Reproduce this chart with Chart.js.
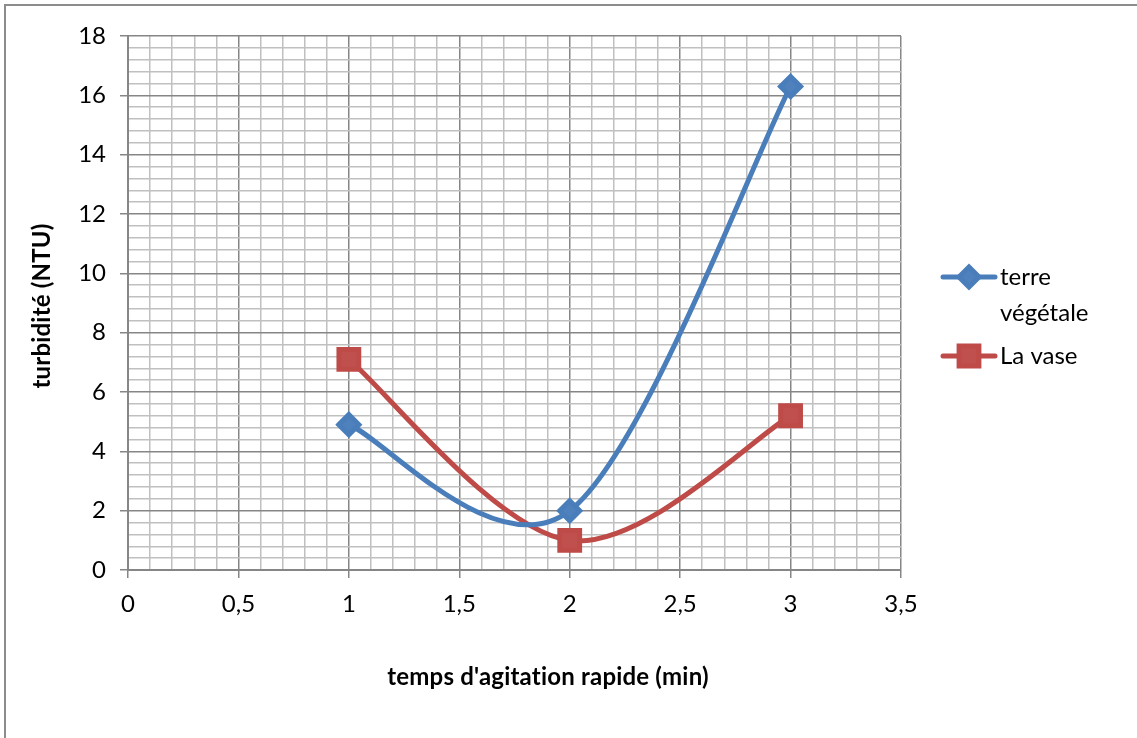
<!DOCTYPE html>
<html>
<head>
<meta charset="utf-8">
<script src="https://cdn.jsdelivr.net/npm/chart.js@4.4.0/dist/chart.umd.min.js"></script>
<style>
  html, body { margin: 0; padding: 0; background: #fff; }
  #wrap { position: relative; width: 1137px; height: 738px; }
</style>
</head>
<body>
<div id="wrap"><canvas id="turbChart" width="1137" height="738"></canvas></div>
<script>
// temps d'agitation rapide (min)
const temps = [1, 2, 3];
const terreVegetale = [4.9, 2.0, 16.3];
const laVase = [7.1, 1.0, 5.2];
const xMax = 3.5;
const yMax = 18;

const majorGrid = "#868686";
const minorGrid = "#c0c0c0";
const police = "Lato, 'Liberation Sans', sans-serif";

const estMajeur = (v, pas) => Math.abs(v / pas - Math.round(v / pas)) < 1e-6;

// lissage facon Excel (Catmull-Rom uniforme) a partir des points places par les echelles
const lissage = {
  id: "lissage",
  beforeDatasetsDraw(chart) {
    chart.data.datasets.forEach((ds, di) => {
      const meta = chart.getDatasetMeta(di);
      meta.dataset.updateControlPoints(chart.chartArea, meta.iAxis);
      const pts = meta.data;
      const n = pts.length;
      pts.forEach((p, i) => {
        const a = pts[Math.max(i - 1, 0)];
        const b = pts[Math.min(i + 1, n - 1)];
        const tx = (b.x - a.x) / 6;
        const ty = (b.y - a.y) / 6;
        p.cp1x = p.x - tx; p.cp1y = p.y - ty;
        p.cp2x = p.x + tx; p.cp2y = p.y + ty;
      });
    });
  },
};

// legende + titres des axes, dessines a la main (Excel place le titre X au centre du cadre)
const decor = {
  id: "decor",
  afterDraw(chart) {
    const c = chart.ctx;
    c.save();
    // cadre du graphique
    c.strokeStyle = "#8c8c8c";
    c.lineWidth = 2;
    c.beginPath();
    c.moveTo(5, 738);
    c.lineTo(5, 5);
    c.lineTo(1137, 5);
    c.stroke();

    c.fillStyle = "#000";
    c.font = "bold 24px " + police;
    c.letterSpacing = "0.2px";
    c.textAlign = "center";
    c.textBaseline = "middle";
    c.fillText("temps d'agitation rapide (min)", 548, 677);
    c.translate(42, 306);
    c.rotate(-Math.PI / 2);
    c.fillText("turbidité (NTU)", 0, 0);
    c.restore();

    c.save();
    const items = [
      { lignes: ["terre", "végétale"], y: 277, ds: chart.data.datasets[0] },
      { lignes: ["La vase"], y: 356, ds: chart.data.datasets[1] },
    ];
    items.forEach(it => {
      c.strokeStyle = it.ds.borderColor;
      c.lineWidth = 5;
      c.lineCap = "round";
      c.beginPath();
      c.moveTo(943, it.y);
      c.lineTo(995, it.y);
      c.stroke();
      c.fillStyle = it.ds.pointBackgroundColor;
      c.strokeStyle = it.ds.pointBorderColor;
      Chart.helpers.drawPoint(c, {
        pointStyle: it.ds.pointStyle,
        radius: it.ds.pointRadius,
        borderWidth: 1,
        rotation: 0,
      }, 969, it.y);
      c.fillStyle = "#000";
      c.font = "24px " + police;
      c.textAlign = "left";
      c.textBaseline = "middle";
      it.lignes.forEach((t, i) => c.fillText(t, 1000, it.y + i * 36));
    });
    c.restore();
  },
};

const ctx = document.getElementById("turbChart").getContext("2d");
const turbChart = new Chart(ctx, {
  type: "line",
  data: {
    datasets: [
      {
        label: "terre végétale",
        data: temps.map((t, i) => ({ x: t, y: terreVegetale[i] })),
        borderColor: "#4a7ebb",
        pointBackgroundColor: "#4f81bd",
        pointBorderColor: "#4a7ebb",
        pointStyle: "rectRot",
        pointRadius: 10,
        pointHoverRadius: 10,
        borderWidth: 5,
        tension: 0.5,
      },
      {
        label: "La vase",
        data: temps.map((t, i) => ({ x: t, y: laVase[i] })),
        borderColor: "#be4b48",
        pointBackgroundColor: "#c0504d",
        pointBorderColor: "#be4b48",
        pointStyle: "rect",
        pointRadius: 14,
        pointHoverRadius: 14,
        borderWidth: 5,
        tension: 0.5,
      },
    ],
  },
  options: {
    responsive: false,
    animation: false,
    layout: { padding: { top: 36, right: 236, left: 0, bottom: 0 } },
    plugins: { legend: { display: false }, tooltip: { enabled: false } },
    scales: {
      x: {
        type: "linear",
        min: 0,
        max: xMax,
        afterFit: s => { s.height = 738 - 570; },
        afterBuildTicks: s => {
          s.ticks = [];
          for (let i = 0; i <= 35; i++) s.ticks.push({ value: i / 10 });
        },
        border: { color: majorGrid, width: 2 },
        grid: {
          color: c => estMajeur(c.tick.value, 0.5) ? majorGrid : minorGrid,
          lineWidth: 1.5,
          tickLength: 8,
          tickColor: c => estMajeur(c.tick.value, 0.5) ? majorGrid : "rgba(0,0,0,0)",
        },
        ticks: {
          autoSkip: false,
          maxRotation: 0,
          color: "#000",
          padding: 12,
          font: { family: police, size: 24 },
          callback: v => estMajeur(v, 0.5) ? String(Math.round(v * 10) / 10).replace(".", ",") : "",
        },
      },
      y: {
        min: 0,
        max: yMax,
        afterFit: s => { s.width = 128; },
        afterBuildTicks: s => {
          s.ticks = [];
          for (let i = 0; i <= 45; i++) s.ticks.push({ value: i * 0.4 });
        },
        border: { color: majorGrid, width: 2 },
        grid: {
          color: c => estMajeur(c.tick.value, 2) ? majorGrid : minorGrid,
          lineWidth: 1.5,
          tickLength: 8,
          tickColor: c => estMajeur(c.tick.value, 2) ? majorGrid : "rgba(0,0,0,0)",
        },
        ticks: {
          autoSkip: false,
          color: "#000",
          padding: 14,
          font: { family: police, size: 24 },
          callback: v => estMajeur(v, 2) ? String(Math.round(v)) : "",
        },
      },
    },
  },
  plugins: [lissage, decor],
});
</script>
</body>
</html>
